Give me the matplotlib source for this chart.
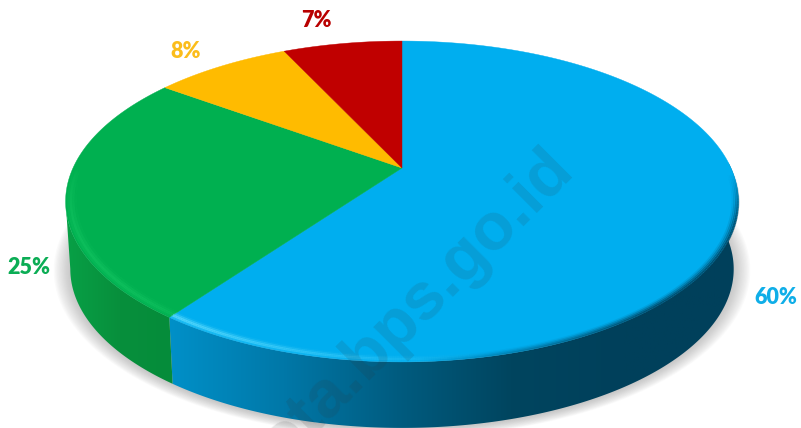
#!/usr/bin/env python3
"""Perspective 3D-style pie chart with a bevelled rim and a watermark."""

import numpy as np
import matplotlib
matplotlib.use("Agg")
import matplotlib.pyplot as plt
from matplotlib.collections import LineCollection
from matplotlib.colors import LinearSegmentedColormap
from matplotlib.patches import Polygon

# Data, clockwise from twelve o'clock
shares = [60, 25, 8, 7]
share_labels = ["60%", "25%", "8%", "7%"]
colors = ["#00AEEF", "#00B050", "#FFBB00", "#C00000"]
label_colors = ["#0FAEE8", "#0BAD55", "#FBBD1C", "#B80000"]

label_pos = [(776, 297), (29, 267), (186, 51), (316, 20)]

# Projective map of the unit disk onto the picture (pixels)
CX, CY = 402, 168
SX = 329
PA, PC = -118.4, 0.2087


def project(angle_deg, r=1.0):
    a = np.radians(angle_deg)
    u, v = r * np.sin(a), r * np.cos(a)
    d = PC * v + 1
    return CX + SX * u / d, (PA * v + CY) / d


def project_bottom(angle_deg):
    x, y = project(angle_deg)
    return CX + (x - CX) * 0.986, 0.99 * y + 69.6


def arc(func, a0, a1, n=200):
    ang = np.linspace(a0, a1, n)
    x, y = func(ang)
    return np.column_stack([x, y])


def side_poly(a0, a1):
    return np.vstack([arc(project, a0, a1), arc(project_bottom, a1, a0)])


fig = plt.figure(figsize=(8.01, 4.28), dpi=100)
ax = fig.add_axes([0, 0, 1, 1])
ax.set_xlim(0, 801)
ax.set_ylim(428, 0)
ax.axis("off")

edges = np.concatenate([[0], np.cumsum(shares)]) / sum(shares) * 360

# Soft shadow under the pie
base = arc(project_bottom, 0, 360, 300)
for grow in np.linspace(1.05, 1.0, 14):
    pts = np.column_stack([CX + (base[:, 0] - CX) * grow, 262 + (base[:, 1] - 262) * grow + 1])
    ax.add_patch(Polygon(pts, closed=True, fc="#808080", ec="none", alpha=0.035, zorder=1))

# Sides, shaded with a left-to-right gradient clipped to the outline
blue_side = LinearSegmentedColormap.from_list(
    "blue_side", ["#0090C8", "#0078A8", "#005C80", "#00455F", "#00405B", "#00405B"])
green_side = LinearSegmentedColormap.from_list(
    "green_side", ["#08A046", "#078F3C", "#058C3A"])
for (a0, a1), cmap in (((88, edges[1]), blue_side), ((edges[1], 258), green_side)):
    poly = side_poly(a0, a1)
    x0, x1 = poly[:, 0].min(), poly[:, 0].max()
    y0, y1 = poly[:, 1].min(), poly[:, 1].max()
    patch = Polygon(poly, closed=True, fc="none", ec="none", transform=ax.transData)
    ax.add_patch(patch)
    grad = np.linspace(0, 1, 256).reshape(1, -1)
    # the blue gradient runs from the seam at the left to the dark right end
    im = ax.imshow(grad, cmap=cmap, extent=(x0, x1, y1, y0), aspect="auto", zorder=2)
    im.set_clip_path(patch)
ax.set_xlim(0, 801)
ax.set_ylim(428, 0)

# Top face
for i, c in enumerate(colors):
    outline = arc(project, edges[i], edges[i + 1])
    centre = np.array([[CX, CY]])
    ax.add_patch(Polygon(np.vstack([centre, outline]), closed=True, fc=c, ec=c, lw=0.3, zorder=3))


def rim(a0, a1, rgb, alpha_fn, r, lw, z=4):
    ang = np.linspace(a0, a1, 160)
    x, y = project(ang, r)
    pts = np.column_stack([x, y])
    segs = np.stack([pts[:-1], pts[1:]], axis=1)
    t = np.linspace(0, 1, len(segs))
    cols = [(*rgb, a) for a in alpha_fn(t)]
    ax.add_collection(LineCollection(segs, colors=cols, linewidths=lw, zorder=z, capstyle="butt"))


# Bevel: dark blur along the right part, highlights on the left part
dark = (0.0, 0.25, 0.36)
for r, k in ((0.999, 0.75), (0.994, 0.5), (0.989, 0.28), (0.984, 0.12)):
    rim(92, 178, dark, lambda t, k=k: k * np.clip(np.minimum(t * 5, (1 - t) * 2.2), 0, 1), r, 1.8)
light_blue = (0.4, 0.88, 1.0)
for r, k in ((0.994, 0.3), (0.988, 0.7), (0.982, 0.4), (0.976, 0.12)):
    rim(edges[1], 165, light_blue, lambda t, k=k: k * (1 - t) ** 1.3, r, 1.8)
light_green = (0.15, 0.85, 0.45)
for r, k in ((0.992, 0.18), (0.985, 0.35), (0.978, 0.22), (0.971, 0.08)):
    rim(edges[1], 270, light_green, lambda t, k=k: k * np.sin(np.pi * np.clip(t * 0.85 + 0.15, 0, 1)) ** 0.6, r, 1.8)

# Labels
for txt, c, (x, y) in zip(share_labels, label_colors, label_pos):
    ax.text(x, y, txt, color=c, family="Lato", weight="heavy", fontsize=15.5,
            ha="center", va="center", zorder=6)

# Watermark
ax.text(576, 172, "ota.bps.go.id", family="Liberation Sans", weight="bold", fontsize=48,
        color="#303030", alpha=0.13, rotation=45, rotation_mode="anchor",
        ha="right", va="baseline", zorder=7)

fig.savefig("out.png", dpi=100)
